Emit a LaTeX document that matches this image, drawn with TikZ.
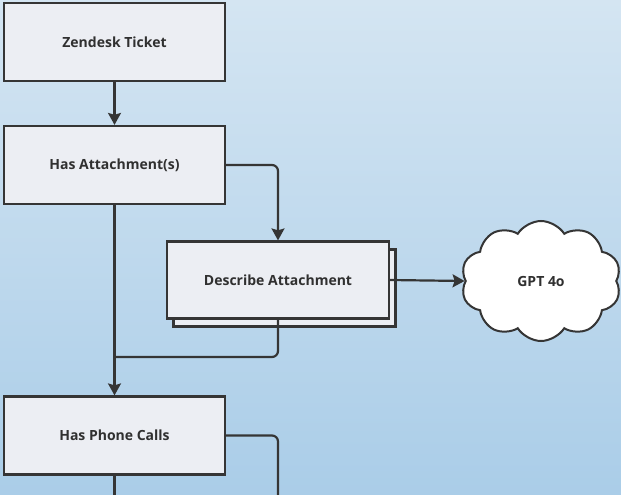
\documentclass[tikz,border=0pt]{standalone}
\usepackage{fontspec}
\setmainfont{Open Sans}
\usepackage{tikz}
\usetikzlibrary{arrows,arrows.meta,positioning,calc,shapes.symbols}

\definecolor{bgtop}{HTML}{D4E5F2}
\definecolor{bgbot}{HTML}{AACDE8}
\definecolor{boxfill}{HTML}{ECEEF3}
\definecolor{edge}{HTML}{353535}

\tikzset{
  every step/.style={draw=edge, line width=2.2pt, fill=boxfill, minimum width=221pt,
    minimum height=78pt, font=\bfseries\fontsize{14}{16}\selectfont, text=edge!90!black},
  wire/.style={draw=edge, line width=2.2pt, rounded corners=6pt},
}

\begin{document}
\begin{tikzpicture}[x=1pt, y=-1pt, >={Stealth[length=12pt, width=13pt, inset=2pt]}]

\useasboundingbox (0,0) rectangle (621,495);
\shade[top color=bgtop, bottom color=bgbot] (0,0) rectangle (621,495);

\node [every step] (ticket) at (114.5,42) {Zendesk Ticket};
\node [every step] (attach) at (114.5,165) {Has Attachment(s)};

% stacked copy behind the describe box
\node [every step, minimum width=222pt, minimum height=77pt] (describe-back) at (284.5,288) {};
\node [every step, minimum width=222pt, minimum height=77pt] (describe) at (278,280) {Describe Attachment};

\node [cloud, cloud puffs=10, cloud puff arc=115, aspect=1.35, draw=edge, line width=2pt,
  fill=white, minimum width=160pt, minimum height=120pt,
  font=\bfseries\fontsize{14}{16}\selectfont, text=edge!90!black] (gpt) at (541,281) {GPT 4o};

\node [every step] (phone) at (114.5,435.5) {Has Phone Calls};

\coordinate (join) at (attach.south |- 0,357);
\coordinate (bottom-left) at (phone.south |- 0,495);
\coordinate (bottom-right) at (describe.south |- 0,495);

\draw [wire, ->] (ticket) -- (attach);
\draw [wire, ->] (attach.east) -| (describe.north);
\draw [wire, ->] (describe.east) -- (gpt.west);
\draw [wire, ->] (attach.south) -- (phone.north);
\draw [wire] (describe.south) |- (join);
\draw [wire] (phone.east) -| (bottom-right);
\draw [wire] (phone.south) -- (bottom-left);

\end{tikzpicture}
\end{document}
